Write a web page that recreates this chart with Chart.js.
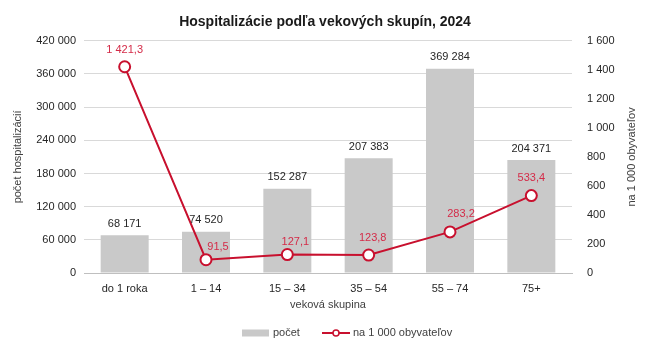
<!DOCTYPE html>
<html>
<head>
<meta charset="utf-8">
<script src="https://cdn.jsdelivr.net/npm/chart.js@4/dist/chart.umd.min.js"></script>
<style>
  html, body { margin: 0; padding: 0; background: #fff; }
  #wrap { width: 650px; height: 349px; }
</style>
</head>
<body>
<div id="wrap"><canvas id="chart" width="650" height="349"></canvas></div>
<script>
// data
const ageGroups = ["do 1 roka", "1 – 14", "15 – 34", "35 – 54", "55 – 74", "75+"];
const hospCounts = [68171, 74520, 152287, 207383, 369284, 204371];
const perThousand = [1421.3, 91.5, 127.1, 123.8, 283.2, 533.4];

const BAR_COLOR = "#c9c9c9";
const LINE_COLOR = "#c8102e";
const LABEL_RED = "#d42b48";
const FONT = "'Liberation Sans', Arial, sans-serif";

// 68171 -> "68 171", 1421.3 -> "1 421,3"
function fmt(v, dec) {
  const parts = v.toFixed(dec).split(".");
  parts[0] = parts[0].replace(/\B(?=(\d{3})+(?!\d))/g, " ");
  return parts.join(",");
}

// value labels, right axis title and legend
const extras = {
  id: "extras",
  afterDatasetsDraw(chart) {
    const ctx = chart.ctx;
    ctx.save();
    ctx.font = "11px " + FONT;
    ctx.textAlign = "center";
    ctx.textBaseline = "bottom";

    // bar labels (dataset 1)
    ctx.fillStyle = "#262626";
    chart.getDatasetMeta(1).data.forEach((bar, i) => {
      ctx.fillText(fmt(hospCounts[i], 0), bar.x, bar.y - 6);
    });

    // line labels (dataset 0)
    const offs = [[0, -11], [12, -7], [8, -7], [4, -12], [11, -12], [0, -12]];
    ctx.fillStyle = LABEL_RED;
    chart.getDatasetMeta(0).data.forEach((pt, i) => {
      ctx.fillText(fmt(perThousand[i], 1), pt.x + offs[i][0], pt.y + offs[i][1]);
    });
    ctx.restore();
  },
  afterDraw(chart) {
    const ctx = chart.ctx;
    const area = chart.chartArea;
    ctx.save();

    // right axis title, reading bottom-up
    ctx.fillStyle = "#404040";
    ctx.font = "11px " + FONT;
    ctx.textAlign = "center";
    ctx.textBaseline = "middle";
    ctx.translate(632, (area.top + area.bottom) / 2);
    ctx.rotate(-Math.PI / 2);
    ctx.fillText("na 1 000 obyvateľov", 0, 0);
    ctx.restore();

    // legend
    ctx.save();
    const ly = 333;
    ctx.font = "11px " + FONT;
    ctx.textBaseline = "middle";
    ctx.textAlign = "left";
    ctx.fillStyle = BAR_COLOR;
    ctx.fillRect(242, ly - 3.5, 27, 7);
    ctx.fillStyle = "#404040";
    ctx.fillText("počet", 273, ly);

    ctx.strokeStyle = LINE_COLOR;
    ctx.lineWidth = 2;
    ctx.beginPath();
    ctx.moveTo(322, ly);
    ctx.lineTo(350, ly);
    ctx.stroke();
    ctx.beginPath();
    ctx.arc(336, ly, 3, 0, Math.PI * 2);
    ctx.fillStyle = "#fff";
    ctx.fill();
    ctx.lineWidth = 1.5;
    ctx.stroke();
    ctx.fillStyle = "#404040";
    ctx.fillText("na 1 000 obyvateľov", 353, ly);
    ctx.restore();
  }
};

const ctx = document.getElementById("chart").getContext("2d");
new Chart(ctx, {
  data: {
    labels: ageGroups,
    datasets: [
      {
        type: "line",
        label: "na 1 000 obyvateľov",
        data: perThousand,
        yAxisID: "y1",
        borderColor: LINE_COLOR,
        backgroundColor: "#ffffff",
        borderWidth: 2,
        pointRadius: 5.5,
        pointBorderWidth: 2,
        pointBackgroundColor: "#ffffff",
        pointBorderColor: LINE_COLOR,
        tension: 0,
        order: 0
      },
      {
        type: "bar",
        label: "počet",
        data: hospCounts,
        yAxisID: "y",
        backgroundColor: BAR_COLOR,
        categoryPercentage: 1,
        barPercentage: 0.59,
        order: 1
      }
    ]
  },
  plugins: [extras],
  options: {
    responsive: false,
    animation: false,
    layout: { padding: { top: 0, bottom: 33, left: 0, right: 0 } },
    plugins: {
      legend: { display: false },
      tooltip: { enabled: false },
      title: {
        display: true,
        text: "Hospitalizácie podľa vekových skupín, 2024",
        color: "#1a1a1a",
        font: { family: FONT, size: 14, weight: "bold" },
        padding: { top: 14, bottom: 10 }
      }
    },
    scales: {
      x: {
        grid: { display: false, drawTicks: false },
        border: { color: "#bfbfbf", width: 1 },
        ticks: { color: "#262626", font: { family: FONT, size: 11 }, padding: 9 },
        title: {
          display: true,
          text: "veková skupina",
          color: "#404040",
          font: { family: FONT, size: 11 },
          padding: { top: 0, bottom: 4 }
        },
        afterFit(scale) { scale.height = 43; }
      },
      y: {
        position: "left",
        min: 0,
        max: 420000,
        ticks: {
          stepSize: 60000,
          color: "#262626",
          font: { family: FONT, size: 11 },
          padding: 8,
          callback: v => fmt(v, 0)
        },
        grid: { color: "#d9d9d9", drawTicks: false },
        border: { display: false },
        title: {
          display: true,
          text: "počet hospitalizácií",
          color: "#404040",
          font: { family: FONT, size: 11 },
          padding: { top: 11, bottom: 0 }
        },
        afterFit(scale) { scale.width = 84; }
      },
      y1: {
        position: "right",
        min: 0,
        max: 1600,
        ticks: {
          stepSize: 200,
          color: "#262626",
          font: { family: FONT, size: 11 },
          padding: 15,
          callback: v => fmt(v, 0)
        },
        grid: { display: false, drawTicks: false },
        border: { display: false },
        afterFit(scale) { scale.width = 78; }
      }
    }
  }
});
</script>
</body>
</html>
